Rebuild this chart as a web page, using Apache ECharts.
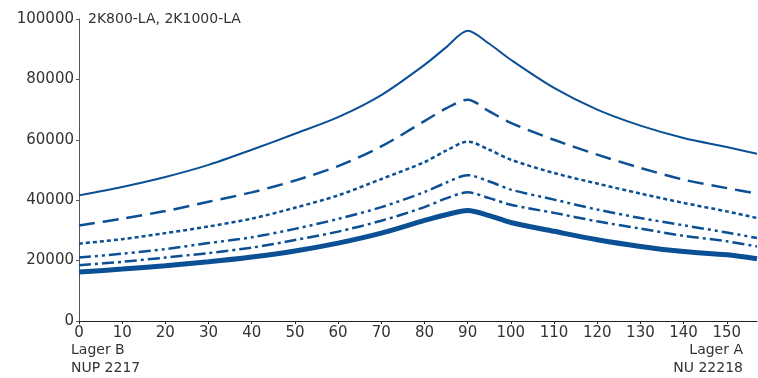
<!DOCTYPE html>
<html>
<head>
<meta charset="utf-8">
<script src="https://cdn.jsdelivr.net/npm/echarts@6/dist/echarts.min.js"></script>
<style>
  html, body { margin: 0; padding: 0; background: #fff; }
  #chart { width: 758px; height: 378px; }
</style>
</head>
<body>
<div id="chart"></div>
<script>
// positions along the shaft (x) and loads (y)
var xs = [0, 10, 20, 30, 40, 50, 60, 70, 80, 85, 90, 95, 100, 110, 120, 130, 140, 150, 157]
var solidThin = [41600, 44400, 47700, 51700, 56700, 62000, 67500, 74800, 84800, 90600, 96100, 91800, 86500, 77200, 70000, 64700, 60600, 57600, 55400]
var longDash = [31600, 33900, 36400, 39500, 42600, 46500, 51300, 57800, 66200, 70400, 73300, 69400, 65600, 60000, 55100, 50700, 46800, 44000, 42200]
var shortDash = [25600, 27100, 29100, 31300, 33900, 37500, 41600, 47000, 52600, 56400, 59400, 56700, 53400, 49000, 45500, 42200, 39100, 36300, 34100]
var dashDotDot = [21000, 22300, 23800, 25800, 27700, 30500, 33800, 37700, 42700, 45800, 48300, 46200, 43500, 40200, 36900, 34100, 31700, 29300, 27500]
var dashDot = [18500, 19600, 21000, 22500, 24300, 26800, 29600, 33200, 37700, 40600, 42600, 40700, 38500, 35800, 33000, 30600, 28200, 26400, 24700]
var solidThick = [16200, 17200, 18300, 19600, 21200, 23200, 25800, 29100, 33300, 35200, 36600, 34900, 32600, 29700, 26900, 24700, 23000, 21900, 20600]
var xTicks = [0, 10, 20, 30, 40, 50, 60, 70, 80, 90, 100, 110, 120, 130, 140, 150]

var blue = '#0b4f95'
var txt = '#333'
var font = 'DejaVu Sans'

function pairs(ys) {
  return xs.map(function (x, i) { return [x, ys[i]] })
}

function line(ys, width, type) {
  return {
    type: 'line',
    data: pairs(ys),
    smooth: 0.3,
    symbol: 'none',
    lineStyle: { color: blue, width: width, type: type, cap: 'butt' }
  }
}

var chart = echarts.init(document.getElementById('chart'))
chart.setOption({
  animation: false,
  title: {
    text: '2K800-LA, 2K1000-LA',
    left: 88,
    top: 12,
    padding: 0,
    textStyle: { fontFamily: font, fontSize: 14, fontWeight: 'normal', color: txt }
  },
  grid: { left: 79, right: 1, top: 19, bottom: 57 },
  xAxis: {
    type: 'value',
    min: 0,
    max: 157,
    interval: 10,
    axisLine: { lineStyle: { color: '#222', width: 1 } },
    axisTick: { customValues: xTicks, length: 3, lineStyle: { color: '#222' } },
    axisLabel: { customValues: xTicks, margin: 5, fontFamily: font, fontSize: 15, color: txt },
    splitLine: { show: false }
  },
  yAxis: {
    type: 'value',
    min: 0,
    max: 100000,
    interval: 20000,
    axisLine: { show: true, lineStyle: { color: '#555', width: 1 } },
    axisTick: { show: true, length: 3, lineStyle: { color: '#555' } },
    axisLabel: {
      margin: 5, fontFamily: font, fontSize: 15, color: txt,
      formatter: function (v) { return String(v) }
    },
    splitLine: { show: false }
  },
  graphic: [
    { type: 'text', left: 71, top: 343, style: { text: 'Lager B', font: '14px "DejaVu Sans"', fill: txt } },
    { type: 'text', left: 71, top: 361, style: { text: 'NUP 2217', font: '14px "DejaVu Sans"', fill: txt } },
    { type: 'text', right: 15, top: 343, style: { text: 'Lager A', font: '14px "DejaVu Sans"', fill: txt } },
    { type: 'text', right: 15, top: 361, style: { text: 'NU 22218', font: '14px "DejaVu Sans"', fill: txt } }
  ],
  series: [
    line(solidThin, 2),
    line(longDash, 2.5, [16, 8]),
    line(shortDash, 2.5, [4, 3]),
    line(dashDotDot, 2.5, [12, 4, 3, 4, 3, 4]),
    line(dashDot, 2.5, [12, 4, 3, 4]),
    line(solidThick, 5)
  ]
})
</script>
</body>
</html>
